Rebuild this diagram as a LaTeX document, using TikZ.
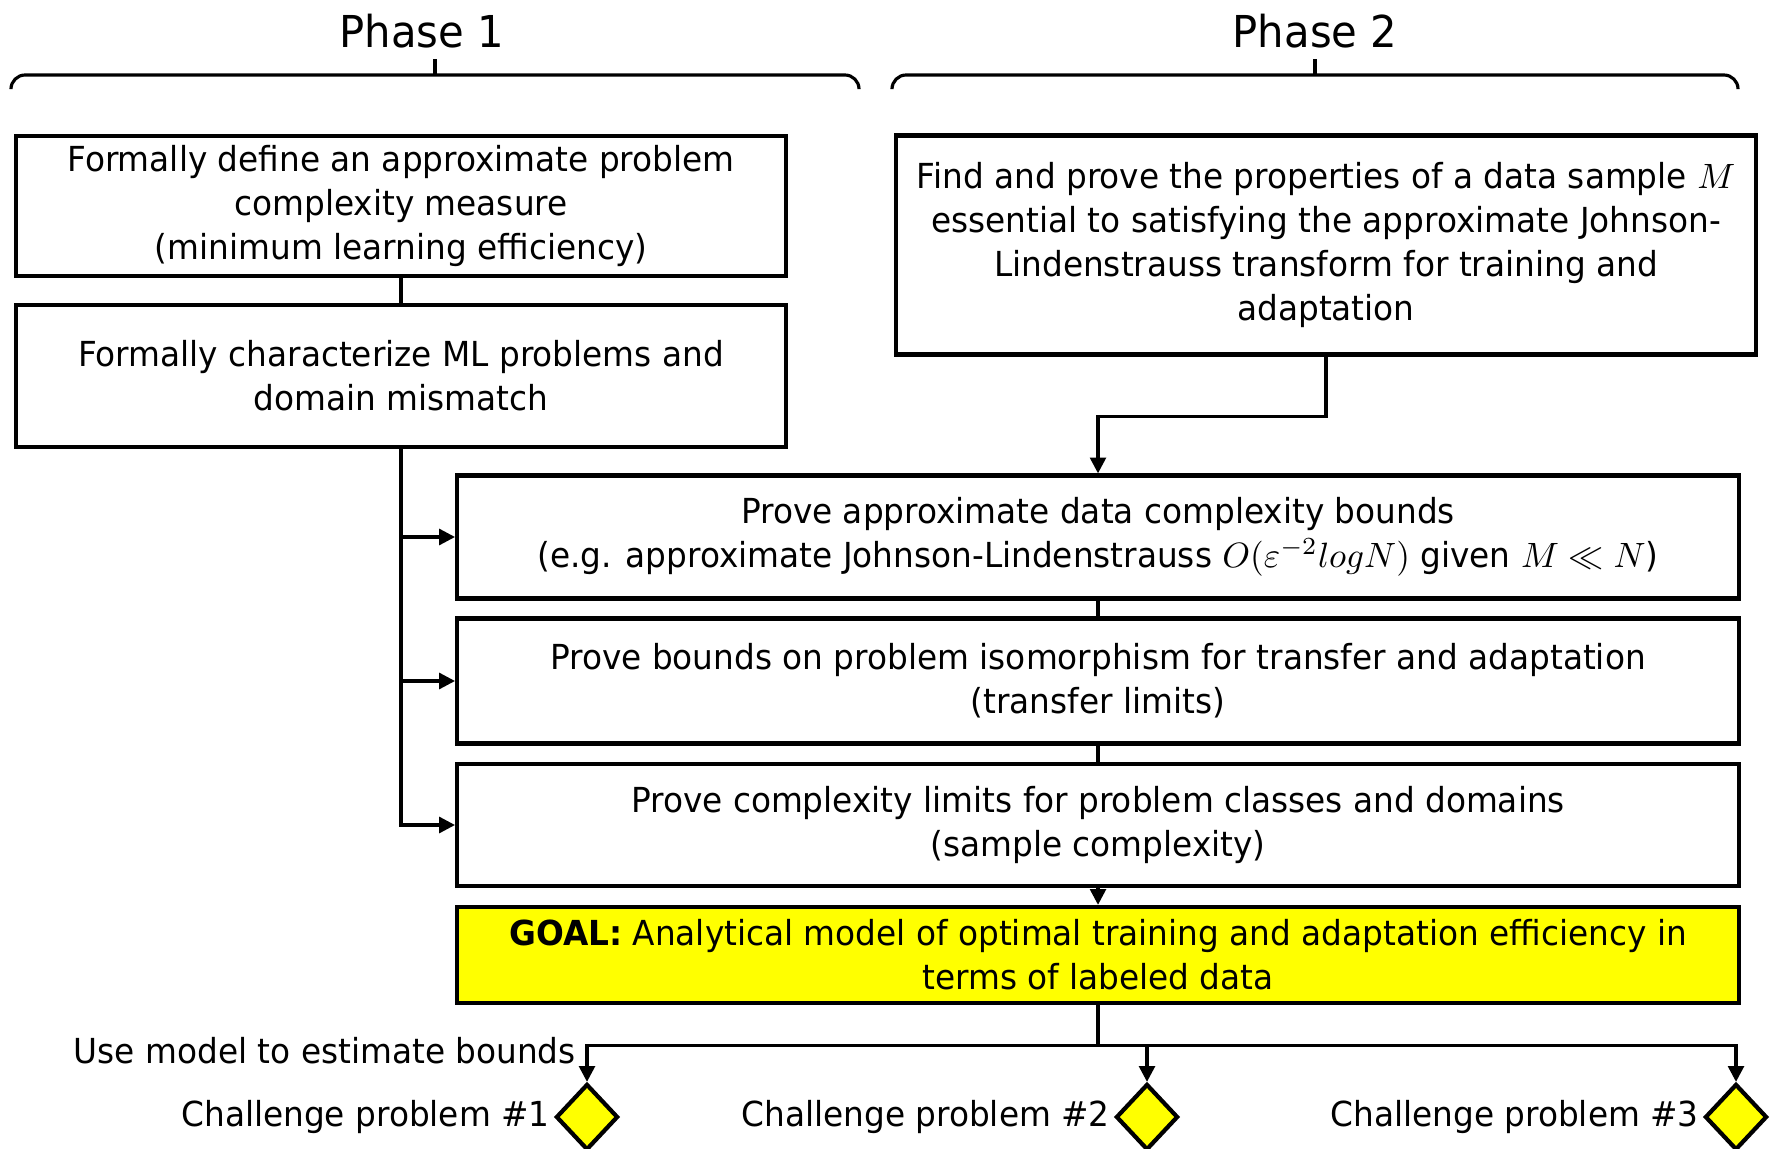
\documentclass[tikz,border=0pt]{standalone}
\usepackage{fontspec}
\setmainfont{DejaVu Sans}[FakeStretch=0.95]
\usepackage{amssymb}
\usetikzlibrary{arrows.meta,shapes.geometric,positioning}
\definecolor{goalyellow}{RGB}{255,255,0}

\begin{document}
\begin{tikzpicture}[x=0.01cm,y=-0.01cm,>={Triangle[length=4.5pt,width=4.5pt]},
  box/.style={draw, line width=1.2pt, align=center, inner sep=0pt,
    font=\fontsize{9.8pt}{12.5pt}\selectfont},
  wire/.style={line width=0.9pt},
  phase/.style={font=\fontsize{12.5pt}{14pt}\selectfont, inner sep=0pt},
  lbl/.style={font=\fontsize{9.8pt}{12.5pt}\selectfont, inner sep=1pt},
  chal/.style={diamond, draw, line width=1.2pt, fill=goalyellow, inner sep=0pt,
    minimum width=0.62cm, minimum height=0.66cm}]
\useasboundingbox (0,0) rectangle (1773,1149);

% phases
\node (ph1) [phase] at (422,31) {Phase 1};
\node (ph2) [phase] at (1315,31) {Phase 2};
\draw [wire, rounded corners=4pt] (11,88) -- (11,75) -- (859,75) -- (859,88);
\draw [wire] (435,75) -- (435,59);
\draw [wire, rounded corners=4pt] (892,88) -- (892,75) -- (1738,75) -- (1738,88);
\draw [wire] (1315,75) -- (1315,59);

% boxes
\node (define) [box, minimum width=7.7cm, minimum height=1.4cm] at (401,206)
  {Formally define an approximate problem\\complexity measure\\(minimum learning efficiency)};
\node (charact) [box, minimum width=7.7cm, minimum height=1.42cm] at (401,376)
  {Formally characterize ML problems and\\domain mismatch};
\node (sample) [box, minimum width=8.59cm, minimum height=2.19cm] at (1326,245)
  {Find and prove the properties of a data sample $M$\\essential to satisfying the approximate Johnson-\\Lindenstrauss transform for training and\\adaptation};
\node (bounds) [box, minimum width=12.81cm, minimum height=1.23cm] at (1098,537)
  {Prove approximate data complexity bounds\\(e.g. approximate Johnson-Lindenstrauss $O(\varepsilon^{-2}logN)$ given $M \ll N$)};
\node (iso) [box, minimum width=12.81cm, minimum height=1.25cm] at (1098,681)
  {Prove bounds on problem isomorphism for transfer and adaptation\\(transfer limits)};
\node (limits) [box, minimum width=12.81cm, minimum height=1.22cm] at (1098,825)
  {Prove complexity limits for problem classes and domains\\(sample complexity)};
\node (goal) [box, fill=goalyellow, minimum width=12.81cm, minimum height=0.96cm] at (1098,955)
  {\textbf{GOAL:} Analytical model of optimal training and adaptation efficiency in\\terms of labeled data};

% challenge problems
\node (cp1) [chal] at (587,1117) {};
\node (cp2) [chal] at (1147,1117) {};
\node (cp3) [chal] at (1736,1117) {};
\node (cp1l) [lbl, left=0pt of cp1] {Challenge problem \#1};
\node (cp2l) [lbl, left=0pt of cp2] {Challenge problem \#2};
\node (cp3l) [lbl, left=0pt of cp3] {Challenge problem \#3};

% connectors
\draw [wire] (define) -- (charact);
\draw [wire,->] (sample.south) -- ++(0,60) -| (bounds.north);
\draw [wire] (bounds) -- (iso);
\draw [wire] (iso) -- (limits);
\draw [wire,->] (limits) -- (goal);
\draw [wire,->] (charact.south) |- (limits.west);
\draw [wire,->] (charact.south |- bounds.west) -- (bounds.west);
\draw [wire,->] (charact.south |- iso.west) -- (iso.west);
\draw [wire] (goal.south) -- ++(0,40) coordinate (split);
\coordinate (splitl) at (cp1 |- split);
\draw [wire,->] (split) -| (cp1.north);
\draw [wire,->] (split) -| (cp3.north);
\draw [wire,->] (split -| cp2) -- (cp2.north);
\node (use) [lbl, left=2pt of splitl, yshift=-0.06cm] {Use model to estimate bounds};
\end{tikzpicture}
\end{document}
